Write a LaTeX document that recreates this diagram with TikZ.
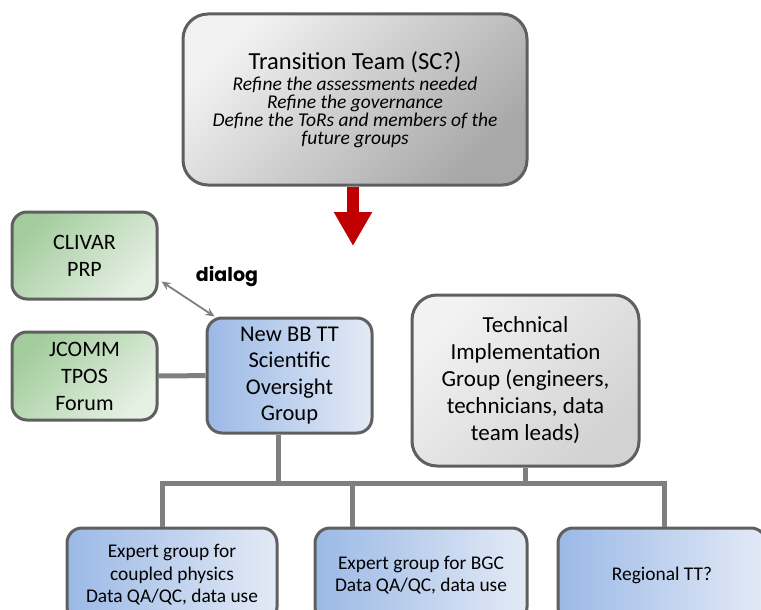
\documentclass[tikz,border=0pt]{standalone}
\usepackage{fontspec}
\setmainfont{Carlito}
\newfontfamily\dialogfont{Poppins}
\usetikzlibrary{arrows.meta}

\definecolor{boxborder}{HTML}{5F5F5F}
\definecolor{linkgray}{HTML}{7F7F7F}
\definecolor{arrowred}{HTML}{C00000}
\definecolor{grayA}{HTML}{F2F2F2}
\definecolor{grayB}{HTML}{A8A8A8}
\definecolor{grayC}{HTML}{D2D2D2}
\definecolor{greenA}{HTML}{A3CC9D}
\definecolor{greenB}{HTML}{E6F0E4}
\definecolor{blueA}{HTML}{9BB9E6}
\definecolor{blueB}{HTML}{E3EAF6}

\tikzset{
  box/.style={draw=boxborder, line width=3pt, align=center, inner sep=0pt},
  graybox/.style={box, top color=grayA, bottom color=grayB, shading angle=45},
  lightgraybox/.style={box, top color=grayA, bottom color=grayC, shading angle=45},
  greenbox/.style={box, top color=greenA, bottom color=greenB, shading angle=45,
    rounded corners=15pt, minimum width=145pt, minimum height=87pt,
    font=\fontsize{22}{27}\selectfont},
  bluebox/.style={box, left color=blueA, right color=blueB, rounded corners=15pt},
  link/.style={draw=linkgray, line width=5pt, line join=miter},
}

\begin{document}
\begin{tikzpicture}[x=1pt, y=-1pt]
  \useasboundingbox (0,0) rectangle (761,610);
  \clip (0,0) rectangle (761,610);

  % top box
  \node[graybox, rounded corners=25pt, minimum width=344pt, minimum height=171pt,
        font=\itshape\fontsize{19.5}{18}\selectfont] (transition) at (355,99.5)
    {{\upshape\fontsize{24.5}{22}\selectfont Transition Team (SC?)}\\[3pt]
     Refine the assessments needed\\
     Refine the governance\\
     Define the ToRs and members of the\\
     future groups};

  % red arrow
  \coordinate (arrowtip) at (353,246);
  \draw[arrowred, line width=12pt, -{Triangle[width=36pt,length=34pt]}]
    ([xshift=-2pt]transition.south) -- (arrowtip);

  % partner boxes on the left
  \node[greenbox] (clivar) at (84.5,255.5) {CLIVAR\\PRP};
  \node[greenbox, minimum height=88pt] (jcomm) at (84.5,376) {JCOMM\\TPOS\\Forum};

  % scientific oversight group
  \node[bluebox, minimum width=165pt, minimum height=115pt,
        font=\fontsize{22.5}{26.5}\selectfont] (newbb) at (289.5,375.5)
    {New BB TT\\Scientific\\Oversight\\Group};

  % technical implementation group
  \node[lightgraybox, rounded corners=25pt, minimum width=227pt, minimum height=171pt,
        font=\fontsize{23}{27}\selectfont] (tech) at (525.5,380.5)
    {Technical\\Implementation\\Group (engineers,\\technicians, data\\team leads)};

  % expert groups
  \tikzset{expert/.style={bluebox, minimum height=94pt, font=\fontsize{19.4}{22.5}\selectfont}}
  \node[expert, minimum width=210pt] (coupled) at (172,575)
    {Expert group for\\coupled physics\\Data QA/QC, data use};
  \node[expert, minimum width=212pt] (bgc) at (421,575)
    {Expert group for BGC\\Data QA/QC, data use};
  \node[expert, minimum width=208pt] (regional) at (662,575) {Regional TT?};

  % connectors
  \draw[link] (jcomm) -- (newbb);

  \coordinate (bus) at (0,483);
  \draw[link] ([xshift=-11.5pt]newbb.south) -- ([xshift=-11.5pt]newbb.south |- bus);
  \draw[link] (tech.south) -- (tech.south |- bus);
  \draw[link] ([xshift=-10pt]coupled.north) -- ([xshift=-10pt]coupled.north |- bus)
    -- ([xshift=2pt]regional.north |- bus) -- ([xshift=2pt]regional.north);
  \draw[link] ([xshift=-69pt]bgc.north) -- ([xshift=-69pt]bgc.north |- bus);

  % dialog between CLIVAR and the oversight group
  \draw[linkgray, line width=1.8pt, {Stealth[length=9pt,width=8pt]}-{Stealth[length=9pt,width=8pt]}]
    ([shift={(3,-19)}]clivar.south east) -- ([xshift=9pt]newbb.north west);
  \node[font=\dialogfont\bfseries\fontsize{19}{19}\selectfont] (dialog) at (227,277) {dialog};
\end{tikzpicture}
\end{document}
